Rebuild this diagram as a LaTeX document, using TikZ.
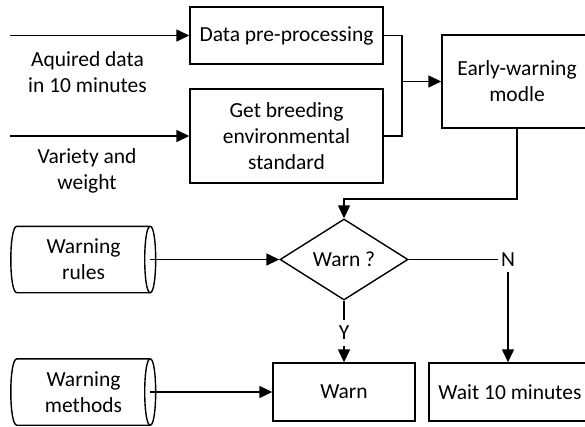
\documentclass[tikz,border=0pt]{standalone}
\usepackage{fontspec}
\setmainfont{Carlito}
\usetikzlibrary{shapes.geometric,arrows.meta}
\begin{document}
\begin{tikzpicture}[x=1pt,y=-1pt,
  every node/.style={font=\fontsize{21.5pt}{26pt}\selectfont, align=center, inner sep=0pt},
  line/.style={line width=1.4pt},
  box/.style={draw, line width=1.4pt, rectangle},
  arr/.style={line, -{Triangle[length=13pt,width=12pt]}},
  store/.style={minimum width=133pt, minimum height=66pt},
  decision/.style={draw, line width=1.4pt, diamond, minimum width=128pt, minimum height=81pt, shape aspect=1.58},
  lbl/.style={inner xsep=3pt, inner ysep=5.5pt}]
\useasboundingbox (0,0) rectangle (585,426);

% process boxes
\node[box, minimum width=193pt, minimum height=57pt] (dp) at (286.5,35.5) {Data pre-processing};
\node[box, minimum width=193pt, minimum height=94pt] (gb) at (286.5,136) {Get breeding\\environmental\\standard};
\node[box, minimum width=150pt, minimum height=93pt] (ew) at (517,81.5) {Early-warning\\modle};
\node[decision] (d) at (344,259.5) {Warn ?};
\node[box, minimum width=142pt, minimum height=58pt] (warn) at (344,392) {Warn};
\node[box, minimum width=162pt, minimum height=58pt] (wait) at (510,392) {Wait 10 minutes};

% stores
\node[store] (wr) at (83.5,259.5) {Warning\\rules};
\node[store] (wm) at (83.5,392) {Warning\\methods};
\foreach \s in {wr,wm}{
  \draw[line] (\s.north east) -- (\s.north west) .. controls +(-8,0) and +(-8,0) .. (\s.south west) -- (\s.south east);
  \draw[line] (\s.north east) .. controls +(7.3,0) and +(7.3,0) .. (\s.south east)
              .. controls +(-7.3,0) and +(-7.3,0) .. (\s.north east);
}

% inputs
\coordinate (in1) at (10,35.5);
\coordinate (in2) at (10,136);
\node (l1) at (87.5,72.5) {Aquired data\\in 10 minutes};
\node (l2) at (87,170.5) {Variety and\\weight};
\draw[arr] (in1) -- (dp.west);
\draw[arr] (in2) -- (gb.west);

% merge
\coordinate (j) at (402,81.5);
\draw[line] (dp.east) -| (j);
\draw[line] (gb.east) -| (j);
\draw[arr] (j) -- (ew.west);

% to decision
\coordinate (k) at (344,199);
\draw[arr] (ew.south) |- (k) -- (d.north);
\draw[arr] (wr.east) -- (d.west);

% branches
\node[lbl] (y) at (344,333) {Y};
\node[lbl] (n) at (508,259.5) {N};
\draw[line] (d.south) -- (y.north);
\draw[arr] (y.south) -- (warn.north);
\draw[line] (d.east) -- (n.west);
\draw[arr] (n.south) -- (n.south |- wait.north);
\draw[arr] (wm.east) -- (warn.west);
\end{tikzpicture}
\end{document}
